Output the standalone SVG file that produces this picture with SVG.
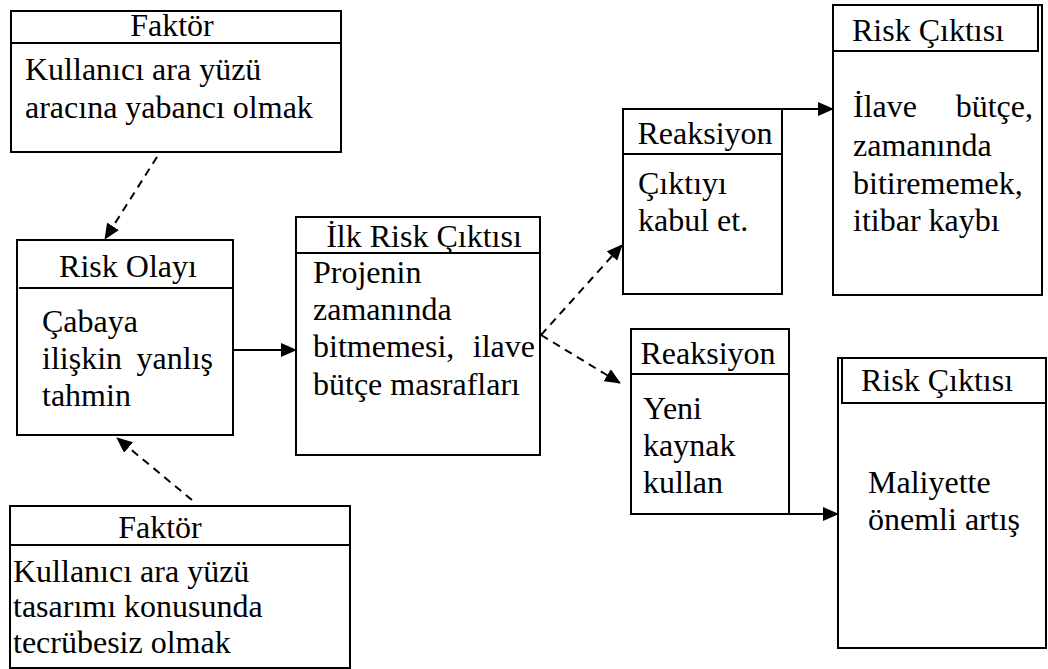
<svg xmlns="http://www.w3.org/2000/svg" width="1048" height="669" viewBox="0 0 1048 669">
<style>
.box{fill:#fff;stroke:#000;stroke-width:2}
.ln{stroke:#000;stroke-width:2;fill:none}
.t{font-family:'Liberation Serif', 'Times New Roman', Times, serif;font-size:32px;fill:#000}
.c{text-anchor:middle}
.e{text-anchor:end}
.con{stroke:#000;stroke-width:2;fill:none;marker-end:url(#ah)}
.d{stroke-dasharray:8,6}
</style>
<defs>
<marker id="ah" markerUnits="userSpaceOnUse" markerWidth="16" markerHeight="14" refX="15" refY="7" orient="auto">
<path d="M0,0 L16,7 L0,14 Z" fill="#000"/>
</marker>
</defs>
<rect width="1048" height="669" fill="#fff"/>

<g id="faktor1">
<rect class="box" x="11" y="11" width="330" height="141"/>
<line class="ln" x1="12" y1="43" x2="340" y2="43"/>
<text class="t c" x="172" y="36">Faktör</text>
<text class="t" x="25" y="80">Kullanıcı ara yüzü</text>
<text class="t" x="25" y="118">aracına yabancı olmak</text>
</g>

<g id="riskOlayi">
<rect class="box" x="17" y="240" width="216" height="195"/>
<line class="ln" x1="19" y1="288" x2="232" y2="288"/>
<text class="t c" x="128" y="277">Risk Olayı</text>
<text class="t" x="42" y="332">Çabaya</text>
<text class="t" x="42" y="369">ilişkin</text>
<text class="t e" x="213" y="369">yanlış</text>
<text class="t" x="42" y="406">tahmin</text>
</g>

<g id="faktor2">
<rect class="box" x="10" y="506" width="340" height="162"/>
<line class="ln" x1="11" y1="545" x2="349" y2="545"/>
<text class="t c" x="160" y="538">Faktör</text>
<text class="t" x="13" y="582">Kullanıcı ara yüzü</text>
<text class="t" x="13" y="617">tasarımı konusunda</text>
<text class="t" x="13" y="653">tecrübesiz olmak</text>
</g>

<g id="ilkRisk">
<rect class="box" x="296" y="217" width="244" height="238"/>
<line class="ln" x1="297" y1="253" x2="539" y2="253"/>
<text class="t c" x="424" y="247">İlk Risk Çıktısı</text>
<text class="t" x="313" y="283">Projenin</text>
<text class="t" x="313" y="320">zamanında</text>
<text class="t" x="313" y="357">bitmemesi,</text>
<text class="t e" x="535" y="357">ilave</text>
<text class="t" x="313" y="395">bütçe masrafları</text>
</g>

<g id="reaksiyon1">
<rect class="box" x="623" y="109" width="159" height="185"/>
<line class="ln" x1="624" y1="154" x2="781" y2="154"/>
<text class="t c" x="705" y="144">Reaksiyon</text>
<text class="t" x="638" y="194">Çıktıyı</text>
<text class="t" x="638" y="231">kabul et.</text>
</g>

<g id="riskCiktisi1">
<rect class="box" x="833" y="5" width="209" height="290"/>
<rect class="box" x="833" y="5" width="205" height="46"/>
<text class="t c" x="928" y="41">Risk Çıktısı</text>
<text class="t" x="853" y="117">İlave</text>
<text class="t e" x="1033" y="117">bütçe,</text>
<text class="t" x="853" y="156">zamanında</text>
<text class="t" x="853" y="194">bitirememek,</text>
<text class="t" x="853" y="231">itibar kaybı</text>
</g>

<g id="reaksiyon2">
<rect class="box" x="631" y="329" width="158" height="185"/>
<line class="ln" x1="632" y1="374" x2="788" y2="374"/>
<text class="t c" x="708" y="364">Reaksiyon</text>
<text class="t" x="643" y="419">Yeni</text>
<text class="t" x="643" y="456">kaynak</text>
<text class="t" x="643" y="493">kullan</text>
</g>

<g id="riskCiktisi2">
<rect class="box" x="838" y="358" width="208" height="290"/>
<rect class="box" x="842" y="358" width="204" height="45"/>
<text class="t c" x="937" y="391">Risk Çıktısı</text>
<text class="t" x="868" y="493">Maliyette</text>
<text class="t" x="868" y="530">önemli artış</text>
</g>

<g id="connectors">
<line class="con d" x1="157" y1="157" x2="105" y2="239"/>
<line class="con d" x1="192" y1="500" x2="117" y2="438"/>
<line class="con" x1="233" y1="350" x2="296" y2="350"/>
<line class="con d" x1="541" y1="335" x2="622" y2="245"/>
<line class="con d" x1="541" y1="335" x2="620" y2="383"/>
<line class="con" x1="782" y1="109" x2="833" y2="109"/>
<line class="con" x1="789" y1="514" x2="838" y2="514"/>
</g>
</svg>
